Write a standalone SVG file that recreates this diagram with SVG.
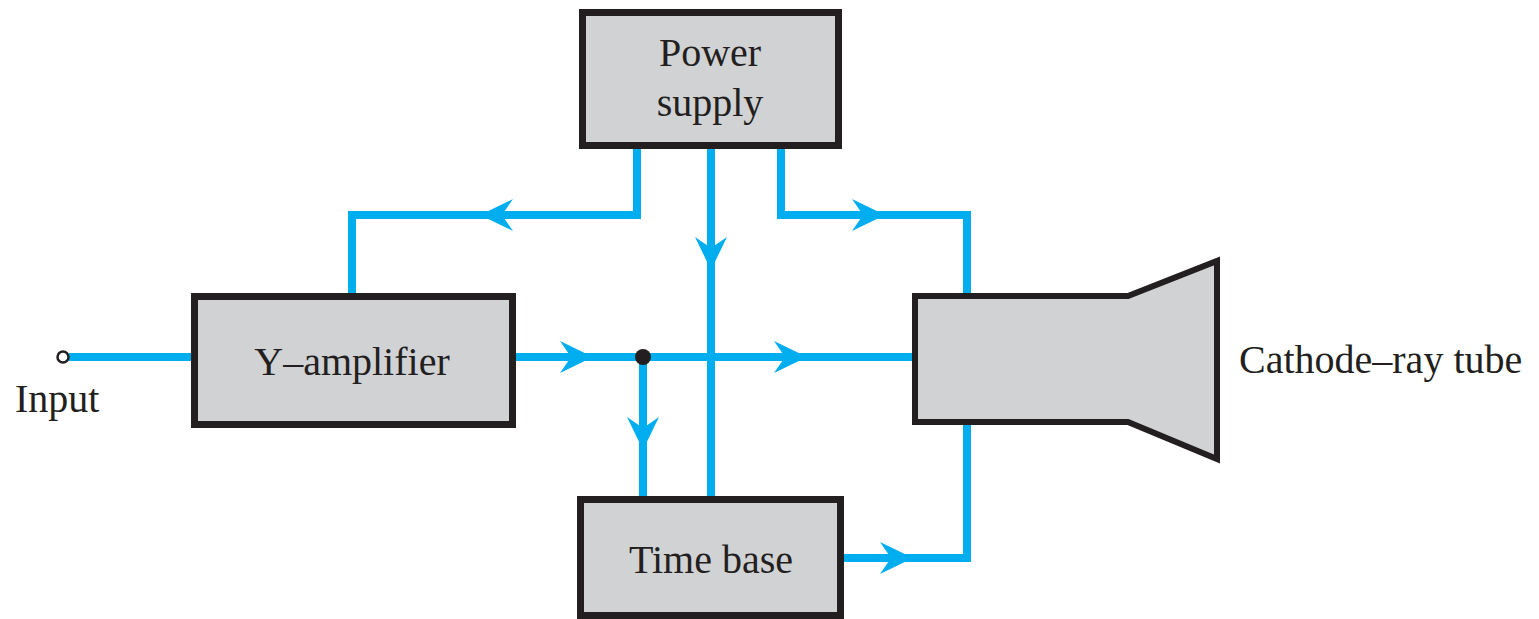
<svg xmlns="http://www.w3.org/2000/svg" width="1539" height="619" viewBox="0 0 1539 619">
<style>
.box{fill:#d1d2d4;stroke:#231f20;stroke-width:7}
.crt{fill:#d1d2d4;stroke:#231f20;stroke-width:6;stroke-linejoin:miter}
.wire{fill:none;stroke:#00aeef;stroke-width:8;stroke-linejoin:miter;stroke-linecap:butt}
.lbl{font-family:"Liberation Serif","Times New Roman",serif;font-size:40px;fill:#231f20}
.mid{text-anchor:middle}
.ah{fill:#00aeef}
</style>
<defs>
<path id="arr" d="M0,0 L-33,-16 L-22,0 L-33,16 Z"/>
</defs>
<rect width="1539" height="619" fill="#ffffff"/>
<g id="connectors">
<path class="wire" d="M69,357 H191"/>
<path class="wire" d="M516,357 H912"/>
<path class="wire" d="M643,357 V496"/>
<path class="wire" d="M637,149 V215 H352 V293"/>
<path class="wire" d="M711,149 V496"/>
<path class="wire" d="M781,149 V215 H967 V293"/>
<path class="wire" d="M844,558 H967 V425"/>
<use href="#arr" class="ah" transform="translate(480,215) rotate(180)"/>
<use href="#arr" class="ah" transform="translate(711,270) rotate(90)"/>
<use href="#arr" class="ah" transform="translate(885,215)"/>
<use href="#arr" class="ah" transform="translate(593,357)"/>
<use href="#arr" class="ah" transform="translate(807,357)"/>
<use href="#arr" class="ah" transform="translate(643,450) rotate(90)"/>
<use href="#arr" class="ah" transform="translate(913,558)"/>
<circle cx="643" cy="357" r="8" fill="#231f20"/>
</g>
<g id="input">
<circle cx="63" cy="357" r="5.5" fill="#ffffff" stroke="#231f20" stroke-width="2.5"/>
<text class="lbl" x="15" y="412">Input</text>
</g>
<g id="power-supply">
<rect class="box" x="582.5" y="12.5" width="256" height="133"/>
<text class="lbl mid" x="710" y="66">Power</text>
<text class="lbl mid" x="710" y="116">supply</text>
</g>
<g id="y-amplifier">
<rect class="box" x="194.5" y="296.5" width="318" height="128"/>
<text class="lbl mid" x="352" y="375">Y–amplifier</text>
</g>
<g id="time-base">
<rect class="box" x="580.5" y="499.5" width="260" height="116"/>
<text class="lbl mid" x="711" y="573">Time base</text>
</g>
<g id="crt">
<path class="crt" d="M915,296 H1128 L1217,261 V459 L1128,422 H915 Z"/>
<text class="lbl" x="1239" y="373">Cathode–ray tube</text>
</g>
</svg>
